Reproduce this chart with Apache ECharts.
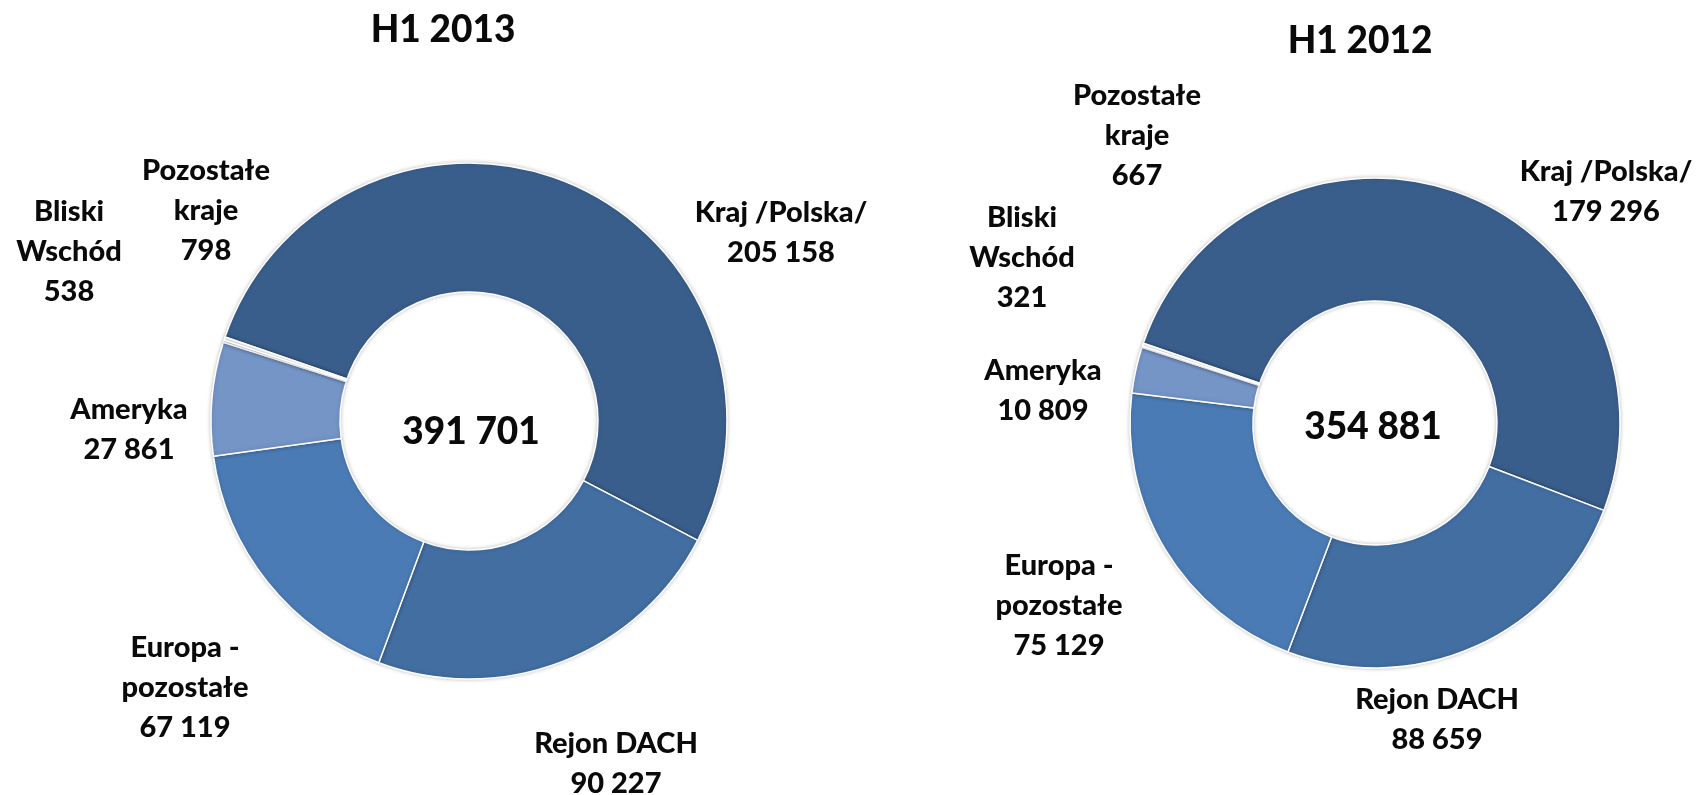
<!DOCTYPE html>
<html>
<head>
<meta charset="utf-8">
<title>H1 2013 / H1 2012</title>
<script src="https://cdn.jsdelivr.net/npm/echarts@6/dist/echarts.min.js"></script>
<style>
  html, body { margin: 0; padding: 0; background: #fff; }
  #chart { width: 1698px; height: 795px; }
</style>
</head>
<body>
<div id="chart"></div>
<script>
// regions, in clockwise order from the top-left
var regions = ['Kraj /Polska/', 'Rejon DACH', 'Europa -\npozostałe', 'Ameryka', 'Bliski\nWschód', 'Pozostałe\nkraje'];
var values2013 = [205158, 90227, 67119, 27861, 538, 798];
var values2012 = [179296, 88659, 75129, 10809, 321, 667];
var periods = ['H1 2013', 'H1 2012'];

var colors = ['#3a5e8c', '#426ea2', '#4a7bb5', '#7595c7', '#d3ddec', '#eef2f8'];

// label anchors (px), same order as regions
var labelPos2013 = [[781, 233], [616, 764], [185, 688], [129, 430], [69, 252], [206, 211]];
var labelPos2012 = [[1606, 192], [1437, 720], [1059, 606], [1043, 391], [1022, 258], [1137, 136]];

var FONT = 'Lato, "Open Sans", sans-serif';

function fmt(v) {
  return String(v).replace(/\B(?=(\d{3})+(?!\d))/g, ' ');
}

function sum(arr) {
  return arr.reduce(function (a, b) { return a + b; }, 0);
}

function buildData(values) {
  return regions.map(function (name, i) {
    return { name: name, value: values[i], itemStyle: { color: colors[i] } };
  });
}

function layoutFrom(pos) {
  return function (params) {
    var p = pos[params.dataIndex];
    return { x: p[0], y: p[1], align: 'center', verticalAlign: 'middle' };
  };
}

function donut(values, center, radius, pos) {
  return {
    type: 'pie',
    center: center,
    radius: radius,
    startAngle: 161,
    clockwise: true,
    avoidLabelOverlap: false,
    silent: true,
    itemStyle: {
      borderColor: '#fff',
      borderWidth: 1.5,
      shadowBlur: 4,
      shadowColor: 'rgba(0,0,0,0.22)'
    },
    label: {
      show: true,
      position: 'outside',
      formatter: function (p) { return p.name + '\n' + fmt(p.value); },
      fontFamily: FONT,
      fontWeight: 900,
      fontSize: 29,
      lineHeight: 40,
      color: '#0a0a0a'
    },
    labelLine: { show: false },
    labelLayout: layoutFrom(pos),
    data: buildData(values)
  };
}

function text(str, x, y, size) {
  return {
    type: 'text',
    x: x,
    y: y,
    style: {
      text: str,
      fill: '#0a0a0a',
      font: '900 ' + size + 'px ' + FONT,
      align: 'center',
      verticalAlign: 'middle'
    }
  };
}

var myChart = echarts.init(document.getElementById('chart'));
myChart.setOption({
  animation: false,
  graphic: [
    text(periods[0], 443, 30, 37),
    text(periods[1], 1360, 41, 37),
    text(fmt(sum(values2013)), 471, 432, 37),
    text(fmt(sum(values2012)), 1373, 427, 37)
  ],
  series: [
    donut(values2013, [469, 421], [129, 258], labelPos2013),
    donut(values2012, [1375, 423], [122, 245], labelPos2012)
  ]
});
</script>
</body>
</html>
